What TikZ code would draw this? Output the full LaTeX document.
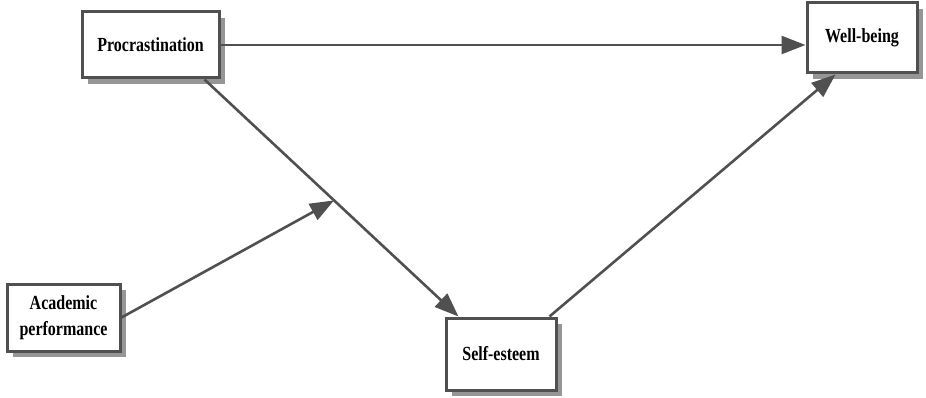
\documentclass[tikz,border=0pt]{standalone}
\usepackage{fontspec}
\setmainfont{Liberation Serif}[FakeStretch=0.8]
\usetikzlibrary{arrows.meta,calc,shadows}
\definecolor{linegray}{RGB}{80,80,80}
\definecolor{shadowgray}{RGB}{150,150,150}
\tikzset{
BOX/.style={draw=linegray, line width=3pt, fill=white, align=center,
  font=\bfseries\fontsize{20}{26}\selectfont,
  drop shadow={shadow xshift=6pt, shadow yshift=-6pt, fill=shadowgray, opacity=1}},
LINK/.style={draw=linegray, line width=2.6pt, -{Triangle[length=24pt,width=18pt]}},
}
\begin{document}
\begin{tikzpicture}
[x=1pt, y=-1pt]
	\useasboundingbox (0,0) rectangle (926,398);
	\node[BOX, minimum width=137pt, minimum height=66pt] (proc) at (150.5,45) {Procrastination};
	\node[BOX, minimum width=113pt, minimum height=67pt] (acad) at (63.5,317.5) {Academic\\performance};
	\node[BOX, minimum width=110pt, minimum height=72pt] (self) at (501,354) {Self-esteem};
	\node[BOX, minimum width=110pt, minimum height=70pt] (well) at (862,38) {Well-being};
	\coordinate (procout) at ($(proc.south east)+(-16,0)$);
	\coordinate (selfin) at ($(self.north west)+(14,0)$);
	\path (procout) -- (selfin) coordinate[pos=0.51] (mod);
	\path[LINK] (proc.east |- 0,45) -- (well.west |- 0,45);
	\path[LINK] (procout) -- (selfin);
	\path[LINK] (acad.east) -- (mod);
	\path[LINK] ($(self.north east)+(-8,0)$) -- ($(well.south west)+(30,0)$);
\end{tikzpicture}
\end{document}
